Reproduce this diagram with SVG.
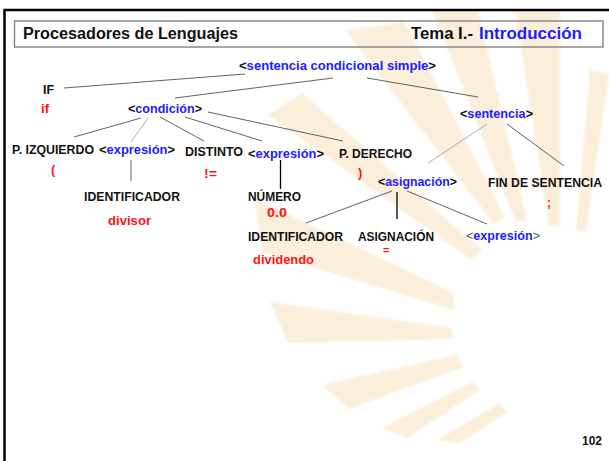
<svg xmlns="http://www.w3.org/2000/svg" width="609" height="461" viewBox="0 0 609 461">
<defs>
<style>
text{font-family:"Liberation Sans",Arial,sans-serif;font-weight:bold;font-size:13px;fill:#111}
.b{fill:#1c1cff}
.r{fill:#ff1414}
.g{fill:#555;font-weight:normal}
.hd{font-size:16px}
.e{stroke:#3a3a3a;stroke-width:0.8;fill:none}
.el{stroke:#999;stroke-width:0.8;fill:none}
.v{stroke:#000;stroke-width:1.3;fill:none}
.ray{fill:#FBEEDA}
</style>
<filter id="soft" x="-10%" y="-10%" width="120%" height="120%"><feGaussianBlur stdDeviation="1.2"/></filter>
</defs>
<rect width="609" height="461" fill="#fff"/>
<g id="background" class="ray" filter="url(#soft)">
<polygon points="268,115 302,93 482,250 472,260"/>
<polygon points="345,30 405,22 505,218 494,224"/>
<polygon points="432,10 478,10 527,220 516,222"/>
<polygon points="515,10 560,10 560,226 549,226"/>
<polygon points="590,70 609,75 586,232 576,230"/>
<polygon points="255,198 453,293 455,310 262,252"/>
<polygon points="270,302 452,328 453,339 288,343"/>
<polygon points="322,385 457,355 463,367 348,409"/>
<polygon points="382,428 473,382 480,390 407,438"/>
<polygon points="437,440 500,403 507,412 460,443"/>
</g>
<path d="M4.5,461 V10 H609" fill="none" stroke="#000" stroke-width="2.5"/>
<g id="header">
<rect x="14.5" y="21" width="588.5" height="26" fill="none" stroke="#8a8a8a" stroke-width="1.5"/>
<text x="23" y="39" class="hd" textLength="215" lengthAdjust="spacingAndGlyphs">Procesadores de Lenguajes</text>
<text x="411" y="39" class="hd" textLength="62" lengthAdjust="spacingAndGlyphs">Tema I.-</text>
<text x="479" y="39" class="hd b" textLength="103" lengthAdjust="spacingAndGlyphs">Introducción</text>
</g>
<g id="connectors">
<line class="e" x1="245" y1="74" x2="64" y2="88"/>
<line class="e" x1="175" y1="98" x2="333" y2="78"/>
<line class="e" x1="367" y1="78" x2="478" y2="97"/>
<line class="e" x1="141" y1="118" x2="74" y2="137"/>
<line class="el" x1="148" y1="118" x2="131" y2="142"/>
<line class="e" x1="160" y1="117" x2="204" y2="141"/>
<line class="e" x1="185" y1="117" x2="262" y2="141"/>
<line class="e" x1="208" y1="112" x2="343" y2="141"/>
<line class="e" x1="131" y1="160" x2="131" y2="181"/>
<line class="v" x1="280.5" y1="160" x2="280.5" y2="189"/>
<line class="el" x1="487" y1="124" x2="428" y2="163"/>
<line class="e" x1="507" y1="124" x2="564" y2="166"/>
<line class="e" x1="392" y1="191" x2="306" y2="223"/>
<line class="v" x1="397" y1="192" x2="397" y2="219"/>
<line class="e" x1="407" y1="191" x2="487" y2="224"/>
</g>
<g id="n-root"><text x="239" y="70" textLength="197" lengthAdjust="spacingAndGlyphs">&lt;<tspan class="b">sentencia condicional simple</tspan>&gt;</text></g>
<g id="n-if"><text x="43" y="94" textLength="11" lengthAdjust="spacingAndGlyphs">IF</text><text class="r" x="41" y="113" textLength="8" lengthAdjust="spacingAndGlyphs">if</text></g>
<g id="n-condicion"><text x="128" y="113" textLength="74" lengthAdjust="spacingAndGlyphs">&lt;<tspan class="b">condición</tspan>&gt;</text></g>
<g id="n-sentencia"><text x="460" y="118" textLength="73" lengthAdjust="spacingAndGlyphs">&lt;<tspan class="b">sentencia</tspan>&gt;</text></g>
<g id="n-pizq"><text x="12" y="154" textLength="82" lengthAdjust="spacingAndGlyphs">P. IZQUIERDO</text><text class="r" x="51" y="174">(</text></g>
<g id="n-expr1"><text x="99" y="154" textLength="76" lengthAdjust="spacingAndGlyphs">&lt;<tspan class="b">expresión</tspan>&gt;</text></g>
<g id="n-distinto"><text x="185" y="156" textLength="58" lengthAdjust="spacingAndGlyphs">DISTINTO</text><text class="r" x="204" y="178" textLength="13" lengthAdjust="spacingAndGlyphs">!=</text></g>
<g id="n-expr2"><text x="248" y="158" textLength="76" lengthAdjust="spacingAndGlyphs">&lt;<tspan class="b">expresión</tspan>&gt;</text></g>
<g id="n-pder"><text x="339" y="158" textLength="73" lengthAdjust="spacingAndGlyphs">P. DERECHO</text><text class="r" x="358" y="177">)</text></g>
<g id="n-asignacion"><text x="378" y="186" textLength="79" lengthAdjust="spacingAndGlyphs">&lt;<tspan class="b">asignación</tspan>&gt;</text></g>
<g id="n-fin"><text x="488" y="187" textLength="114" lengthAdjust="spacingAndGlyphs">FIN DE SENTENCIA</text><text class="r" x="547" y="207" style="font-size:12px">;</text></g>
<g id="n-id1"><text x="84" y="201" textLength="96" lengthAdjust="spacingAndGlyphs">IDENTIFICADOR</text><text class="r" x="108" y="225" textLength="43" lengthAdjust="spacingAndGlyphs">divisor</text></g>
<g id="n-numero"><text x="248" y="201" textLength="53" lengthAdjust="spacingAndGlyphs">NÚMERO</text><text class="r" x="267" y="217" textLength="20" lengthAdjust="spacingAndGlyphs">0.0</text></g>
<g id="n-id2"><text x="248" y="241" textLength="95" lengthAdjust="spacingAndGlyphs">IDENTIFICADOR</text><text class="r" x="253" y="264" textLength="61" lengthAdjust="spacingAndGlyphs">dividendo</text></g>
<g id="n-asigtok"><text x="358" y="241" textLength="76" lengthAdjust="spacingAndGlyphs">ASIGNACIÓN</text><text class="r" x="383" y="254" style="font-size:11px">=</text></g>
<g id="n-expr3"><text x="466" y="240" textLength="74" lengthAdjust="spacingAndGlyphs"><tspan class="g">&lt;</tspan><tspan class="b">expresión</tspan><tspan class="g">&gt;</tspan></text></g>
<g id="page"><text x="582" y="445" textLength="20" lengthAdjust="spacingAndGlyphs" style="font-size:12px">102</text></g>
</svg>
